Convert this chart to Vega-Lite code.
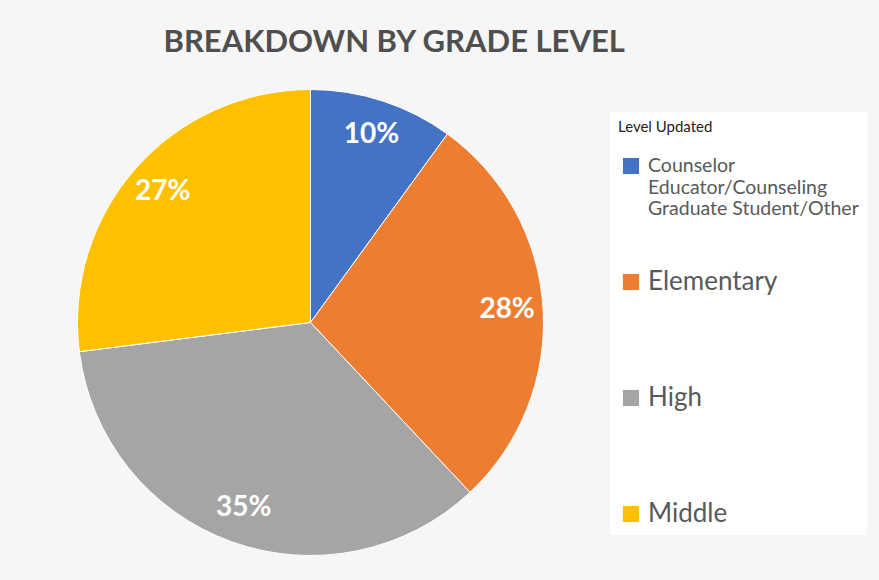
{
  "$schema": "https://vega.github.io/schema/vega-lite/v6.json",
  "width": 467,
  "height": 467,
  "autosize": "none",
  "padding": {"left": 77, "top": 89, "right": 335, "bottom": 24},
  "background": "#f6f6f6",
  "title": {
    "text": "BREAKDOWN BY GRADE LEVEL",
    "font": "Lato",
    "fontSize": 31,
    "fontWeight": "bold",
    "color": "#4f4f4f",
    "anchor": "start",
    "dx": 88,
    "offset": 29
  },
  "data": {
    "values": [
      {"level": "Counselor Educator/Counseling Graduate Student/Other", "share": 0.10},
      {"level": "Elementary", "share": 0.28},
      {"level": "High", "share": 0.35},
      {"level": "Middle", "share": 0.27}
    ]
  },
  "encoding": {
    "theta": {"field": "share", "type": "quantitative", "stack": true},
    "order": {"field": "level", "type": "ordinal"}
  },
  "layer": [
    {
      "mark": {"type": "arc", "outerRadius": 233, "stroke": "white", "strokeWidth": 1},
      "encoding": {
        "color": {
          "field": "level",
          "type": "nominal",
          "scale": {
            "domain": ["Counselor Educator/Counseling Graduate Student/Other", "Elementary", "High", "Middle"],
            "range": ["#4472C4", "#ED7D31", "#A5A5A5", "#FFC000"]
          },
          "legend": {
            "title": "Level Updated",
            "orient": "none",
            "legendX": 533,
            "legendY": 23,
            "fillColor": "white",
            "padding": 8,
            "labelExpr": "datum.value == 'Counselor Educator/Counseling Graduate Student/Other' ? ['Counselor', 'Educator/Counseling', 'Graduate Student/Other'] : datum.label",
            "labelFontSize": {"expr": "datum && datum.value && length(datum.value) > 20 ? 19.5 : 26"},
            "symbolType": "square",
            "symbolSize": 260,
            "symbolStrokeWidth": 0,
            "gridAlign": "all",
            "rowPadding": 50,
            "labelLimit": 300,
            "labelFont": "Lato",
            "labelColor": "#595959",
            "titleFont": "Lato",
            "titleFontSize": 15,
            "titleFontWeight": "normal",
            "titleColor": "#222222",
            "titlePadding": 18
          }
        }
      }
    },
    {
      "mark": {"type": "text", "radius": 197, "font": "Lato", "fontSize": 28, "fontWeight": "bold", "fill": "white"},
      "encoding": {
        "text": {"field": "share", "type": "quantitative", "format": ".0%"},
        "detail": {"field": "level", "type": "nominal"}
      }
    }
  ]
}
